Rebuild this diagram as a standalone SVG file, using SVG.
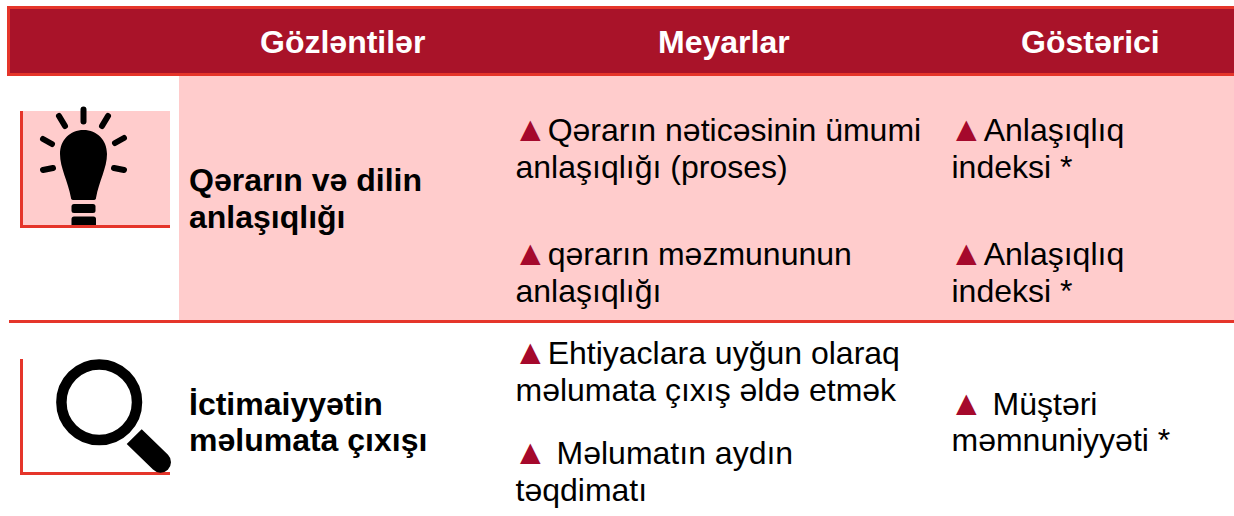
<svg xmlns="http://www.w3.org/2000/svg" width="1234" height="516" viewBox="0 0 1234 516">
<style>
text{font-family:"Liberation Sans",Arial,sans-serif;fill:#000;font-size:32px}
.h{fill:#fff;font-weight:bold;font-size:32px}
.b{font-weight:bold;font-size:32px}
.t{fill:#a5092c;font-size:35px}
.hb{fill:#a91329}
.r{fill:#e5352a}
.p{fill:#ffcccc}
.k{stroke:#000;stroke-width:6px;stroke-linecap:round;fill:none}
</style>
<rect width="1234" height="516" fill="#fff"/>
<g id="header">
<rect x="7" y="6" width="1227" height="70" class="r"/>
<rect x="10" y="9" width="1224" height="64" class="hb"/>
<text class="h" x="260" y="53">Gözləntilər</text>
<text class="h" x="658" y="53">Meyarlar</text>
<text class="h" x="1021" y="53">Göstərici</text>
</g>
<g id="row1">
<rect x="179" y="76" width="1055" height="244" class="p"/>
<rect x="9" y="320" width="1225" height="3" class="r"/>
<text class="b" x="189" y="191">Qərarın və dilin</text>
<text class="b" x="189" y="228">anlaşıqlığı</text>
<text x="513" y="141"><tspan class="t">▲</tspan>Qərarın nəticəsinin ümumi</text>
<text x="515.500" y="178">anlaşıqlığı (proses)</text>
<text x="513" y="265"><tspan class="t">▲</tspan>qərarın məzmununun</text>
<text x="515.500" y="302">anlaşıqlığı</text>
<text x="949" y="141"><tspan class="t">▲</tspan>Anlaşıqlıq</text>
<text x="951.500" y="178">indeksi *</text>
<text x="949" y="265"><tspan class="t">▲</tspan>Anlaşıqlıq</text>
<text x="951.500" y="302">indeksi *</text>
</g>
<g id="icon-bulb">
<rect x="20" y="111" width="150" height="117" class="p"/>
<rect x="20" y="111" width="3" height="117" class="r"/>
<rect x="20" y="225" width="150" height="3" class="r"/>
<path class="k" d="M83.500 109.500V121.500M59 116L65 126M108 116L102 126M43 139L52 144M124 138L115 143M43 170L53 168M124 170L114 168"/>
<path d="M83.500 130C97 130 107 140 107 154C107 168 99 181 96 198Q96 200 93 200H74Q71 200 71 198C68 181 60 168 60 154C60 140 70 130 83.500 130Z" fill="#000"/>
<rect x="71.500" y="204" width="24" height="9" rx="2.500" fill="#000"/>
<path d="M74 216.500H93.500Q96 216.500 96 219V225H71.500V219Q71.500 216.500 74 216.500Z" fill="#000"/>
</g>
<g id="row2">
<text class="b" x="189" y="415">İctimaiyyətin</text>
<text class="b" x="189" y="451">məlumata çıxışı</text>
<text x="513" y="364"><tspan class="t">▲</tspan>Ehtiyaclara uyğun olaraq</text>
<text x="515.500" y="401">məlumata çıxış əldə etmək</text>
<text x="513" y="464" xml:space="preserve"><tspan class="t">▲</tspan> Məlumatın aydın</text>
<text x="515.500" y="501">təqdimatı</text>
<text x="949" y="415" xml:space="preserve"><tspan class="t">▲</tspan> Müştəri</text>
<text x="951.500" y="451">məmnuniyyəti *</text>
</g>
<g id="icon-search">
<rect x="20" y="359" width="3" height="116" class="r"/>
<rect x="20" y="472" width="150" height="3" class="r"/>
<circle cx="99.200" cy="402.300" r="37.800" fill="none" stroke="#000" stroke-width="10.500"/>
<path d="M126.700 444L141.700 429.300L168 454.800A10.500 10.500 0 0 1 153 469.500Z" fill="#000"/>
</g>
</svg>
